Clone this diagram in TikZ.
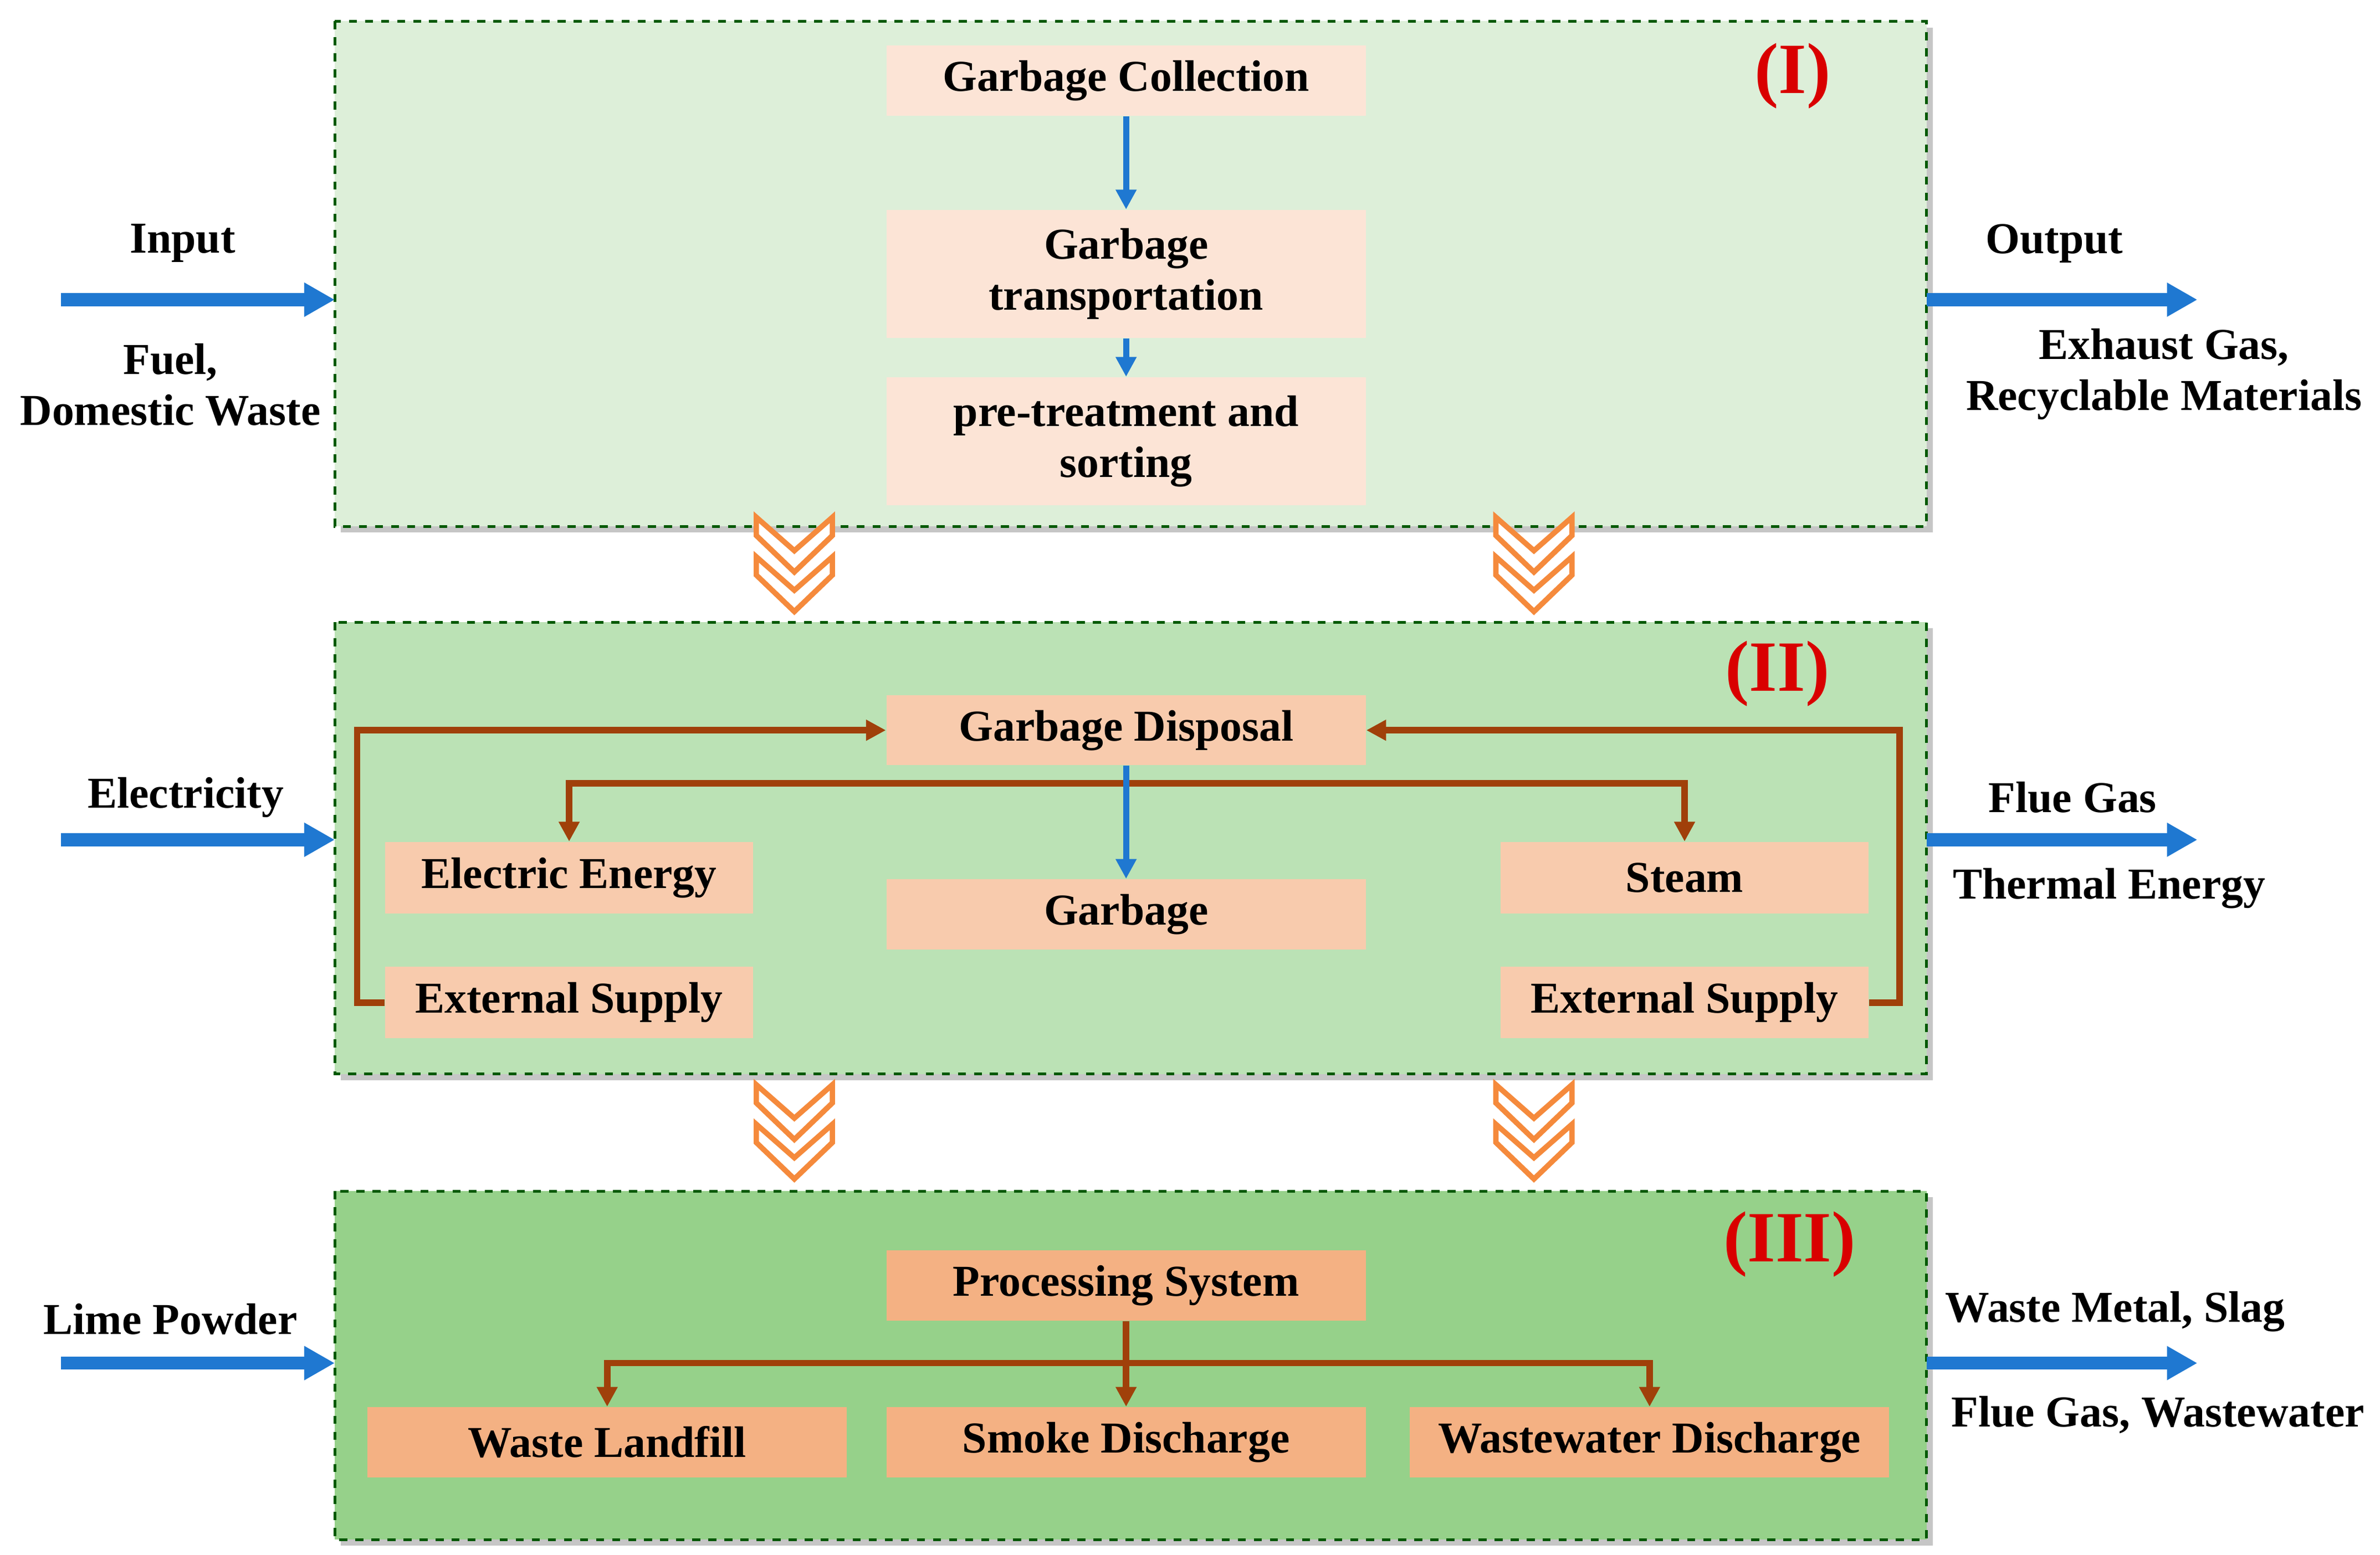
\documentclass[tikz,border=0pt]{standalone}
\usepackage{fontspec}
\setmainfont{Liberation Serif}
\usetikzlibrary{arrows.meta, positioning, shadows}
\definecolor{pone}{HTML}{DDEFD9}
\definecolor{ptwo}{HTML}{BBE2B5}
\definecolor{pthree}{HTML}{96D18A}
\definecolor{bone}{HTML}{FCE4D6}
\definecolor{btwo}{HTML}{F8CBAD}
\definecolor{bthree}{HTML}{F4B183}
\definecolor{brownline}{HTML}{A0400A}
\definecolor{blueline}{HTML}{1F78D1}
\definecolor{chev}{HTML}{F58A3C}
\begin{document}
\begin{tikzpicture}[x=0.2mm, y=-0.2mm,
    panel/.style   = {draw=green!35!black, dashed, line width=0.35mm, drop shadow={opacity=0.45}},
    procbox/.style = {minimum width=63mm, minimum height=9.2mm, align=center,
                      font=\fontsize{16.5}{19}\selectfont\bfseries},
    sidebox/.style = {minimum width=48.4mm, minimum height=9.4mm,
                      font=\fontsize{16.5}{19}\selectfont\bfseries},
    tagtext/.style = {text=red!85!black, font=\fontsize{27}{30}\selectfont\bfseries},
    iotext/.style  = {font=\fontsize{16.5}{19}\selectfont\bfseries, align=center},
    flow/.style    = {-{Triangle[length=4mm,width=4.2mm]}, blueline, line width=1.7mm},
    downflow/.style= {-{Triangle[length=2.6mm,width=2.6mm]}, blueline, line width=0.8mm},
    link/.style    = {-{Triangle[length=2.6mm,width=2.6mm]}, brownline, line width=0.85mm}
  ]
  \useasboundingbox (0,0) rectangle (1564,1022);

  % panels
  \fill[panel, fill=pone]   (220,14)  rectangle (1266,346);
  \fill[panel, fill=ptwo]   (220,409) rectangle (1266,706);
  \fill[panel, fill=pthree] (220,783) rectangle (1266,1012);
  \node[tagtext] (tagI)   at (1178,50)  {(I)};
  \node[tagtext] (tagII)  at (1168,443) {(II)};
  \node[tagtext] (tagIII) at (1176,818) {(III)};

  % panel I
  \node[procbox, fill=bone] (collect) at (740,53) {Garbage Collection};
  \node[procbox, fill=bone, minimum height=16.8mm] (transport) at (740,180) {Garbage\\transportation};
  \node[procbox, fill=bone, minimum height=16.8mm] (sorting) at (740,290) {pre-treatment and\\sorting};
  \draw[downflow] (collect) -- (transport);
  \draw[downflow] (transport) -- (sorting);

  % panel II
  \node[procbox, fill=btwo] (disposal) at (740,480) {Garbage Disposal};
  \node[procbox, fill=btwo] (garbage) at (740,601) {Garbage};
  \node[sidebox, fill=btwo] (electric) at (374,577) {Electric Energy};
  \node[sidebox, fill=btwo] (steam) at (1107,577) {Steam};
  \node[sidebox, fill=btwo] (supplyL) at (374,659) {External Supply};
  \node[sidebox, fill=btwo] (supplyR) at (1107,659) {External Supply};
  \coordinate (split) at (740,515);
  \draw[link] (split) -| (electric.north);
  \draw[link] (split) -| (steam.north);
  \draw[downflow] (disposal) -- (garbage);
  \draw[link] (supplyL.west) -- ++(-18,0) |- (disposal.west);
  \draw[link] (supplyR.east) -- ++(20,0) |- (disposal.east);

  % panel III
  \node[procbox, fill=bthree] (process) at (740,845) {Processing System};
  \node[procbox, fill=bthree] (smoke) at (740,948) {Smoke Discharge};
  \node[procbox, fill=bthree] (landfill) at (399,948) {Waste Landfill};
  \node[procbox, fill=bthree] (water) at (1084,948) {Wastewater Discharge};
  \coordinate (branch) at (740,896);
  \draw[brownline, line width=0.85mm] (process) -- (branch);
  \draw[link] (branch) -| (landfill.north);
  \draw[link] (branch) -- (smoke.north);
  \draw[link] (branch) -| (water.north);

  % chevrons between panels
  \foreach \cx/\cy in {522/340, 1008/340, 522/713, 1008/713} {
    \foreach \dy in {0, 26} {
      \draw[chev, line width=0.7mm, fill=white, line join=miter]
        (\cx-25,\cy+\dy) -- (\cx,\cy+\dy+22) -- (\cx+25,\cy+\dy)
        -- (\cx+25,\cy+\dy+12) -- (\cx,\cy+\dy+36) -- (\cx-25,\cy+\dy+12) -- cycle;
    }
  }

  % inputs and outputs
  \coordinate (inI) at (40,197);   \coordinate (inII) at (40,552);  \coordinate (inIII) at (40,896);
  \coordinate (outI) at (1444,197); \coordinate (outII) at (1444,552); \coordinate (outIII) at (1444,896);
  \coordinate (edgeLI) at (220,197); \coordinate (edgeLII) at (220,552); \coordinate (edgeLIII) at (220,896);
  \coordinate (edgeRI) at (1266,197); \coordinate (edgeRII) at (1266,552); \coordinate (edgeRIII) at (1266,896);
  \draw[flow] (inI) -- (edgeLI);
  \draw[flow] (inII) -- (edgeLII);
  \draw[flow] (inIII) -- (edgeLIII);
  \draw[flow] (edgeRI) -- (outI);
  \draw[flow] (edgeRII) -- (outII);
  \draw[flow] (edgeRIII) -- (outIII);

  \node[iotext] (input) at (120,160) {Input};
  \node[iotext] (fuel) at (112,253) {Fuel,\\Domestic Waste};
  \node[iotext] (output) at (1350,160) {Output};
  \node[iotext] (exhaust) at (1422,246) {Exhaust Gas,\\Recyclable Materials};
  \node[iotext] (elec) at (122,524) {Electricity};
  \node[iotext] (flue) at (1362,524) {Flue Gas};
  \node[iotext] (thermal) at (1386,584) {Thermal Energy};
  \node[iotext] (lime) at (112,867) {Lime Powder};
  \node[iotext] (metal) at (1390,862) {Waste Metal, Slag};
  \node[iotext] (wastewater) at (1418,930) {Flue Gas, Wastewater};
\end{tikzpicture}
\end{document}
